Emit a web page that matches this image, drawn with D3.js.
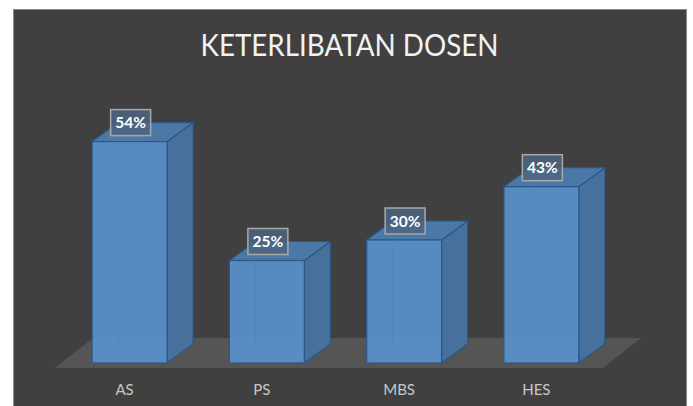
<!DOCTYPE html>
<html>
<head>
<meta charset="utf-8">
<script src="https://cdn.jsdelivr.net/npm/d3@7"></script>
<style>
  body { margin: 0; background: #ffffff; }
</style>
</head>
<body>
<div id="chart"></div>
<script>
// data
var categories = ["AS", "PS", "MBS", "HES"];
var values = [54, 25, 30, 43];
var title = "KETERLIBATAN DOSEN";

var drawChart = function(){

    // sizes & style
    const width = 693, height = 406;
    const fontFamily = "Lato, 'Open Sans', sans-serif";
    const bgColor = "#404040";
    const floorColor = "#555555";
    const frontColor = "#5990c9";
    const sideColor = "#47709c";
    const topColor = "#4c78a8";
    const edgeColor = "#2a5888";
    const depthX = 26, depthY = -19;

    var svg = d3.select("#chart").append("svg")
        .attr("width", width)
        .attr("height", height);

    // chart background
    svg.append("rect")
        .attr("x", 13.5).attr("y", 9.5)
        .attr("width", 673).attr("height", 400)
        .attr("fill", bgColor)
        .attr("stroke", "#8a8a8a")
        .attr("stroke-width", 1);

    // scales
    var x = d3.scaleBand()
        .domain(categories)
        .range([61, 610])
        .paddingInner(0.454)
        .paddingOuter(0.227);

    var y = d3.scaleLinear()
        .domain([0, 60])
        .range([363, 117]);

    // floor
    var fx0 = x.range()[0] - 6, fx1 = x.range()[1] - 7, fy = y(0) + 5;
    svg.append("path")
        .attr("d", `M${fx0},${fy} L${fx1},${fy} L${fx1 + 38},${fy - 30} L${fx0 + 38},${fy - 30} Z`)
        .attr("fill", floorColor);

    // title
    svg.append("text")
        .attr("x", 349.5).attr("y", 56)
        .attr("text-anchor", "middle")
        .attr("font-family", fontFamily)
        .attr("font-size", 30)
        .attr("textLength", 298)
        .attr("lengthAdjust", "spacingAndGlyphs")
        .attr("fill", "#f2f2f2")
        .text(title);

    var data = categories.map((c, i) => ({cat: c, value: values[i]}));

    var bars = svg.append("g").selectAll("g")
        .data(data)
        .join("g");

    // hidden back edges (seen through the bar)
    bars.append("path")
        .attr("d", d => {
            var x0 = x(d.cat), y0 = y(0), yt = y(d.value), w = x.bandwidth();
            return `M${x0},${y0} L${x0 + depthX},${y0 + depthY} L${x0 + w + depthX},${y0 + depthY}` +
                   ` M${x0 + depthX},${y0 + depthY} L${x0 + depthX},${yt + depthY}`;
        })
        .attr("fill", "none")
        .attr("stroke", "#4a80b8")
        .attr("stroke-width", 1);

    // side face
    bars.append("path")
        .attr("d", d => {
            var x1 = x(d.cat) + x.bandwidth(), y0 = y(0), yt = y(d.value);
            return `M${x1},${y0} L${x1 + depthX},${y0 + depthY} L${x1 + depthX},${yt + depthY} L${x1},${yt} Z`;
        })
        .attr("fill", sideColor)
        .attr("stroke", edgeColor)
        .attr("stroke-width", 1.2)
        .attr("stroke-linejoin", "round");

    // top face
    bars.append("path")
        .attr("d", d => {
            var x0 = x(d.cat), x1 = x0 + x.bandwidth(), yt = y(d.value);
            return `M${x0},${yt} L${x1},${yt} L${x1 + depthX},${yt + depthY} L${x0 + depthX},${yt + depthY} Z`;
        })
        .attr("fill", topColor)
        .attr("stroke", edgeColor)
        .attr("stroke-width", 1.2)
        .attr("stroke-linejoin", "round");

    // front face
    bars.append("rect")
        .attr("x", d => x(d.cat))
        .attr("y", d => y(d.value))
        .attr("width", x.bandwidth())
        .attr("height", d => y(0) - y(d.value))
        .attr("fill", frontColor)
        .attr("fill-opacity", 0.93)
        .attr("stroke", edgeColor)
        .attr("stroke-width", 1.2);

    // faint hidden edges over the front face
    bars.append("path")
        .attr("d", d => {
            var x0 = x(d.cat), y0 = y(0), yt = y(d.value);
            return `M${x0 + 1},${y0 - 1} L${x0 + depthX},${y0 + depthY} L${x0 + depthX},${yt + 1}` +
                   ` M${x0 + depthX},${y0 + depthY} L${x0 + x.bandwidth() - 1},${y0 + depthY}`;
        })
        .attr("fill", "none")
        .attr("stroke", "#4f86bf")
        .attr("stroke-width", 1);

    // value labels
    var labels = svg.append("g").selectAll("g")
        .data(data)
        .join("g")
        .attr("transform", d => `translate(${x(d.cat) + x.bandwidth() / 2 + 1},${y(d.value) - 19})`);

    labels.append("rect")
        .attr("x", -20).attr("y", -13)
        .attr("width", 40).attr("height", 26)
        .attr("fill", "#4c6580")
        .attr("fill-opacity", 0.85)
        .attr("stroke", "#a8a8a8")
        .attr("stroke-width", 1.5);

    labels.append("text")
        .attr("text-anchor", "middle")
        .attr("y", 5.5)
        .attr("font-family", fontFamily)
        .attr("font-weight", "bold")
        .attr("font-size", 15.5)
        .attr("fill", "#ffffff")
        .text(d => d.value + "%");

    // category labels
    svg.append("g").selectAll("text")
        .data(categories)
        .join("text")
        .attr("x", d => x(d) + x.bandwidth() / 2 - 5)
        .attr("y", 395)
        .attr("text-anchor", "middle")
        .attr("font-family", fontFamily)
        .attr("font-size", 15)
        .attr("fill", "#c8c8c8")
        .text(d => d);
}

window.addEventListener("load", drawChart);
</script>
</body>
</html>
